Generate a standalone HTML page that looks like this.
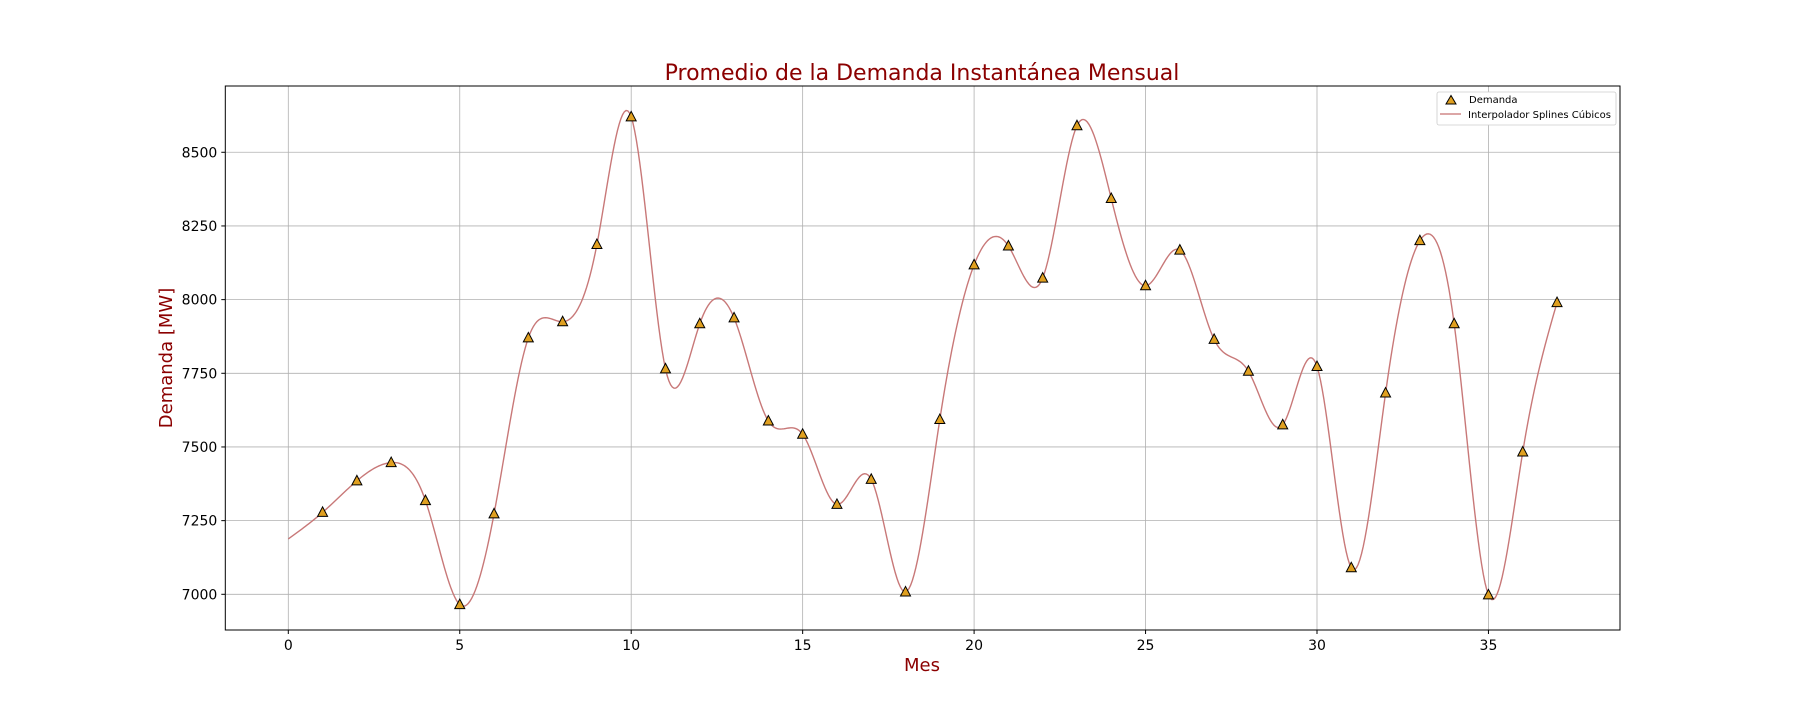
<!DOCTYPE html>
<html><head><meta charset="utf-8"><style>
body{margin:0;background:#fff;}
svg{display:block;font-family:"DejaVu Sans","Liberation Sans",sans-serif;}
</style></head><body>
<svg id="chart" width="1800" height="720">
<text x="922" y="80" font-size="22" fill="#8b0000" text-anchor="middle">Promedio de la Demanda Instantánea Mensual</text>
<text x="922" y="671" font-size="18" fill="#8b0000" text-anchor="middle">Mes</text>
<text x="0" y="0" font-size="18" fill="#8b0000" text-anchor="middle" transform="translate(172,358) rotate(-90)">Demanda [MW]</text>
<g id="grid"></g>
<g id="ticks"></g>
<path id="spline" fill="none" stroke="#c87878" stroke-width="1.4"/>
<g id="markers"></g>
<rect x="225.3" y="86" width="1394.7" height="544" fill="none" stroke="#000" stroke-width="1"/>
<g>
<rect x="1437" y="92" width="179" height="33" rx="2" fill="#fff" stroke="#ccc" stroke-width="0.8"/>
<polygon points="1451,95.5 1446,104 1456,104" fill="#e0a020" stroke="#000" stroke-width="1"/>
<text x="1469" y="103" font-size="10" fill="#000">Demanda</text>
<line x1="1440" y1="114" x2="1461" y2="114" stroke="#d08888" stroke-width="1.5"/>
<text x="1468" y="118" font-size="10" fill="#000">Interpolador Splines Cúbicos</text>
</g>
</svg>
<script>
const months=[0,1,2,3,4,5,6,7,8,9,10,11,12,13,14,15,16,17,18,19,20,21,22,23,24,25,26,27,28,29,30,31,32,33,34,35,36,37];
const demand=[7188,7278,7385,7447,7318,6965,7273,7870,7925,8187,8620,7765,7918,7938,7588,7543,7305,7390,7008,7593,8118,8182,8073,8590,8343,8047,8168,7865,7757,7575,7773,7090,7683,8200,7918,6998,7483,7990];
const xTicks=[0,5,10,15,20,25,30,35];
const yTicks=[7000,7250,7500,7750,8000,8250,8500];
const X=v=>288.3+v*34.29;
const Y=v=>594.3-(v-7000)/250*73.67;
const NS="http://www.w3.org/2000/svg";
const L=225.3,R=1620,T=86,B=630;
const grid=document.getElementById('grid'),ticks=document.getElementById('ticks');
function mk(tag,attrs,parent){const e=document.createElementNS(NS,tag);for(const k in attrs)e.setAttribute(k,attrs[k]);parent.appendChild(e);return e;}
xTicks.forEach(t=>{
 const g=mk('line',{x1:X(t),x2:X(t),y1:T,y2:B,stroke:'#b0b0b0','stroke-width':0.8},grid);
 
 
 mk('line',{x1:X(t),x2:X(t),y1:B,y2:B+4,stroke:'#000'},ticks);
 const tx=mk('text',{x:X(t),y:B+20,'font-size':14,'text-anchor':'middle',fill:'#000'},ticks);
 tx.textContent=t;
 
 
});
yTicks.forEach(t=>{
 const g=mk('line',{x1:L,x2:R,y1:Y(t),y2:Y(t),stroke:'#b0b0b0','stroke-width':0.8},grid);
 
 
 mk('line',{x1:L-4,x2:L,y1:Y(t),y2:Y(t),stroke:'#000'},ticks);
 const tx=mk('text',{x:L-8,y:Y(t)+5,'font-size':14,'text-anchor':'end',fill:'#000'},ticks);
 tx.textContent=t;
 
 
});
const n=months.length;const h=[],al=[0],l=[1],mu=[0],z=[0],c=new Array(n).fill(0),b=[],d=[];
for(let i=0;i<n-1;i++)h[i]=months[i+1]-months[i];
for(let i=1;i<n-1;i++)al[i]=3/h[i]*(demand[i+1]-demand[i])-3/h[i-1]*(demand[i]-demand[i-1]);
for(let i=1;i<n-1;i++){l[i]=2*(months[i+1]-months[i-1])-h[i-1]*mu[i-1];mu[i]=h[i]/l[i];z[i]=(al[i]-h[i-1]*z[i-1])/l[i];}
for(let j=n-2;j>=0;j--){c[j]=(j<n-2?z[j]-mu[j]*c[j+1]:z[j]);b[j]=(demand[j+1]-demand[j])/h[j]-h[j]*(c[j+1]+2*c[j])/3;d[j]=(c[j+1]-c[j])/(3*h[j]);}
let dstr='';
for(let j=0;j<n-1;j++){for(let s=0;s<=20;s++){const t=s/20*h[j];const v=demand[j]+b[j]*t+c[j]*t*t+d[j]*t*t*t;dstr+=(j===0&&s===0?'M':'L')+X(months[j]+t).toFixed(2)+','+Y(v).toFixed(2);}}
document.getElementById('spline').setAttribute('d',dstr);
const mg=document.getElementById('markers');
for(let i=1;i<n;i++){
 const x=X(months[i]),y=Y(demand[i]);
 const p=mk('polygon',{points:`${x},${y-5.5} ${x-5},${y+4} ${x+5},${y+4}`,fill:'#e0a020',stroke:'#000','stroke-width':1},mg);
 
 
}
</script>
</body></html>
